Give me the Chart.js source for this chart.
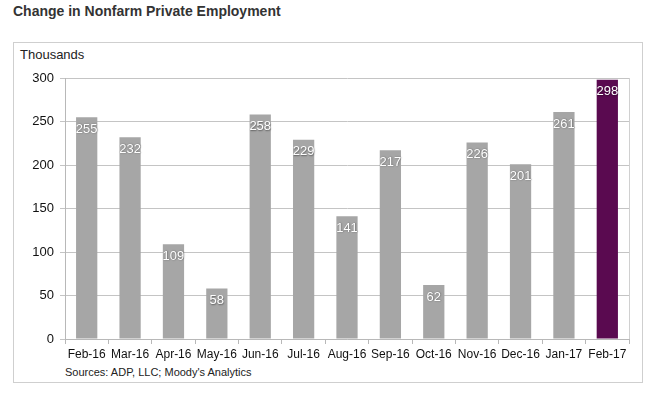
<!DOCTYPE html>
<html>
<head>
<meta charset="utf-8">
<script src="https://cdn.jsdelivr.net/npm/chart.js@4"></script>
<style>
  body { margin: 0; background: #fff; font-family: "Liberation Sans", Arial, sans-serif; }
  #wrap { position: relative; width: 659px; height: 395px; }
  #title { position: absolute; left: 13px; top: 3px; font-size: 14px; font-weight: bold; color: #333; }
  #box { position: absolute; left: 13px; top: 42px; width: 628px; height: 339px; border: 1px solid #cfcfcf; }
  #units { position: absolute; left: 20px; top: 47px; font-size: 13px; color: #222; }
  #source { position: absolute; left: 65px; top: 366px; font-size: 11px; color: #222; }
  canvas { position: absolute; left: 0; top: 0; }
</style>
</head>
<body>
<div id="wrap">
  <div id="title">Change in Nonfarm Private Employment</div>
  <div id="box"></div>
  <div id="units">Thousands</div>
  <div id="source">Sources: ADP, LLC; Moody's Analytics</div>
  <canvas id="chart" width="659" height="395"></canvas>
</div>
<script>
const months = ["Feb-16", "Mar-16", "Apr-16", "May-16", "Jun-16", "Jul-16", "Aug-16",
  "Sep-16", "Oct-16", "Nov-16", "Dec-16", "Jan-17", "Feb-17"];
const jobs = [255, 232, 109, 58, 258, 229, 141, 217, 62, 226, 201, 261, 298];
const yTicks = [0, 50, 100, 150, 200, 250, 300];

const barColors = jobs.map((v, i) => (i === jobs.length - 1 ? "#5a0a50" : "#a6a6a6"));

// white value labels at top of each bar + right border of plot
const labelPlugin = {
  id: "labels",
  afterDatasetsDraw(chart) {
    const ctx = chart.ctx;
    const meta = chart.getDatasetMeta(0);
    ctx.save();
    ctx.font = "13px 'Liberation Sans', Arial, sans-serif";
    ctx.textAlign = "center";
    ctx.textBaseline = "middle";
    meta.data.forEach((bar, i) => {
      ctx.shadowColor = "rgba(0,0,0,0.45)";
      ctx.shadowBlur = 1.5;
      ctx.shadowOffsetX = 0.5;
      ctx.shadowOffsetY = 0.5;
      ctx.fillStyle = "#fff";
      ctx.fillText(jobs[i], bar.x, bar.y + 12);
    });
    ctx.restore();
  },
  beforeDatasetsDraw(chart) {
    const { ctx, chartArea } = chart;
    ctx.save();
    ctx.strokeStyle = "#d0d0d0";
    ctx.lineWidth = 1;
    ctx.beginPath();
    ctx.moveTo(Math.round(chartArea.right) + 0.5, chartArea.top);
    ctx.lineTo(Math.round(chartArea.right) + 0.5, chartArea.bottom);
    ctx.stroke();
    ctx.restore();
  }
};

new Chart(document.getElementById("chart"), {
  type: "bar",
  data: {
    labels: months,
    datasets: [{
      data: jobs,
      backgroundColor: barColors,
      categoryPercentage: 1,
      barPercentage: 0.49
    }]
  },
  options: {
    responsive: false,
    animation: false,
    layout: { padding: { left: 20, right: 30, top: 78, bottom: 0 } },
    plugins: { legend: { display: false }, tooltip: { enabled: false } },
    scales: {
      x: {
        afterFit: (s) => { s.height = 56; },
        grid: { drawOnChartArea: false, color: "#b8b8b8", tickLength: 5 },
        border: { color: "#b8b8b8" },
        ticks: { color: "#111", font: { size: 12, family: "'Liberation Sans', Arial" }, padding: 3, autoSkip: false, maxRotation: 0 }
      },
      y: {
        min: 0,
        max: 300,
        afterFit: (s) => { s.width = 45; },
        afterBuildTicks: (s) => { s.ticks = yTicks.map((v) => ({ value: v })); },
        grid: { color: "#c4c4c4", tickLength: 5 },
        border: { color: "#b8b8b8" },
        ticks: { color: "#111", font: { size: 13, family: "'Liberation Sans', Arial" }, padding: 6 }
      }
    }
  },
  plugins: [labelPlugin]
});
</script>
</body>
</html>
